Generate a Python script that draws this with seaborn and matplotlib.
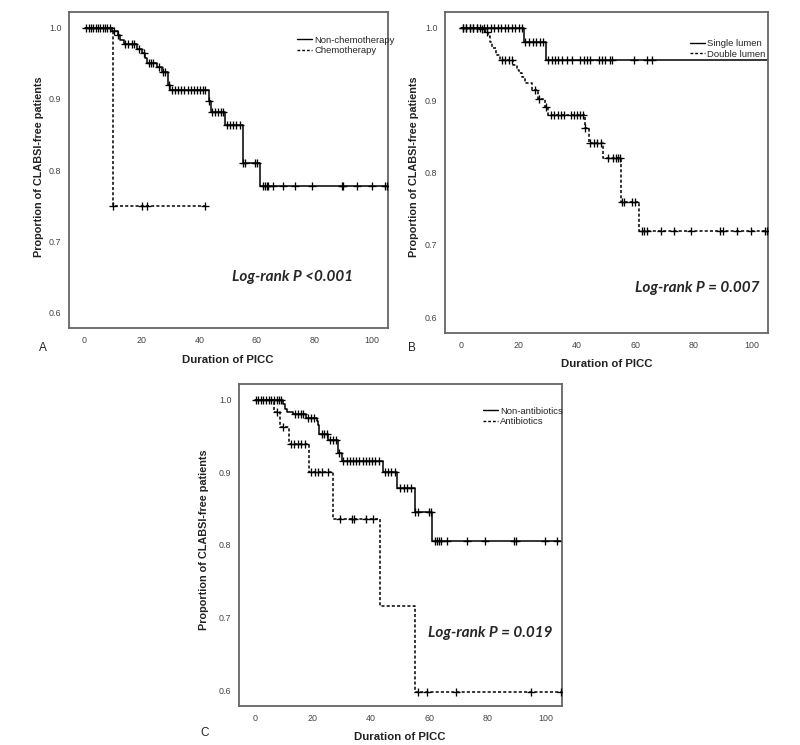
import numpy as np
import seaborn as sns
import matplotlib.pyplot as plt
from matplotlib.lines import Line2D

# ---- Panel A: chemotherapy ----
nonchemo_times = [0, 9.5, 11.5, 12.4, 13.6, 18.2, 20.0, 21.1, 21.7, 25.2, 26.9, 29.2, 29.8, 43.2, 44.0, 49.0, 55.1, 61.2]
nonchemo_surv = [1.0, 0.996, 0.990, 0.983, 0.977, 0.970, 0.965, 0.958, 0.951, 0.945, 0.938, 0.920, 0.912, 0.897, 0.881, 0.863, 0.810, 0.777]
nonchemo_cens = [0.6, 1.4, 2.2, 3.0, 3.9, 4.7, 5.5, 6.4, 7.2, 8.0, 9.0, 10.4, 11.8, 14.2, 15.3, 16.4, 17.4, 19.0,
                 20.6, 22.4, 23.2, 24.0, 25.8, 27.5, 28.2, 29.5, 30.4, 31.5, 32.6, 33.7, 34.8, 35.9, 37.0, 38.1,
                 39.2, 40.3, 41.3, 42.0, 43.2, 44.3, 45.5, 46.6, 47.5, 48.4, 49.6, 50.7, 51.8, 52.9, 54.0, 55.1,
                 55.9, 59.4, 60.2, 62.3, 62.9, 63.5, 64.0, 65.8, 69.3, 73.3, 79.1, 89.6, 90.0, 94.8, 100.0, 104.7, 105.3]
nonchemo_end = 105.3
chemo_times = [0, 9.9]
chemo_surv = [1.0, 0.75]
chemo_cens = [10.0, 20.0, 21.9, 42.0]
chemo_end = 42.0

# ---- Panel B: lumen ----
single_times = [0, 21.8, 29.4]
single_surv = [1.0, 0.981, 0.955]
single_cens = [0.7, 1.9, 3.1, 4.3, 5.5, 6.7, 7.9, 9.1, 10.3, 11.5, 12.7, 13.9, 15.1, 16.3, 17.5, 18.7, 19.9, 21.1,
               22.1, 23.4, 24.7, 25.9, 27.2, 28.4, 30.2, 31.3, 32.5, 33.6, 34.8, 36.5, 38.2, 41.1, 42.3, 43.4,
               44.6, 47.4, 48.6, 49.7, 51.4, 52.0, 59.5, 64.1, 65.8]
single_end = 105.5
double_times = [0, 6.6, 8.4, 9.5, 10.1, 10.7, 12.2, 13.5, 18.1, 19.3, 20.2, 21.0, 22.1, 24.5, 26.7, 29.0, 30.2,
                42.8, 44.3, 49.1, 55.0, 61.2]
double_surv = [1.0, 0.998, 0.994, 0.989, 0.981, 0.972, 0.963, 0.956, 0.949, 0.942, 0.938, 0.932, 0.924, 0.914,
               0.901, 0.891, 0.880, 0.861, 0.841, 0.820, 0.759, 0.719]
double_cens = [0.7, 1.9, 3.1, 4.3, 5.5, 7.2, 9.0, 14.2, 15.4, 16.6, 17.7, 25.6, 26.9, 29.2, 31.0, 32.2, 33.3,
               34.4, 35.5, 37.8, 38.9, 40.0, 41.1, 42.2, 42.8, 44.6, 45.8, 47.0, 48.1, 50.5, 52.5, 53.3, 54.1,
               54.8, 55.5, 56.2, 58.9, 60.0, 62.3, 63.2, 64.1, 68.9, 73.2, 79.2, 89.3, 90.2, 95.1, 100.0, 104.8, 105.4]
double_end = 105.4

# ---- Panel C: antibiotics ----
nonanti_times = [0, 9.8, 10.3, 11.1, 13.2, 17.6, 21.3, 21.8, 22.2, 25.3, 28.7, 29.9, 44.0, 48.9, 55.2, 61.1]
nonanti_surv = [1.0, 0.994, 0.988, 0.984, 0.980, 0.975, 0.971, 0.966, 0.953, 0.945, 0.927, 0.916, 0.900, 0.8785,
                0.846, 0.8055]
nonanti_cens = [0.3, 1.2, 2.1, 3.0, 3.9, 4.8, 5.7, 6.6, 7.5, 8.4, 9.2, 13.8, 14.9, 15.9, 16.7, 18.3, 19.4, 20.5,
                23.0, 24.0, 24.8, 25.9, 27.0, 28.0, 28.9, 30.5, 31.6, 32.7, 33.8, 34.9, 36.0, 37.1, 38.2, 39.3,
                40.4, 41.5, 42.6, 44.8, 45.9, 47.0, 48.3, 50.0, 51.2, 52.4, 53.6, 55.2, 56.0, 59.8, 60.6, 62.0,
                62.8, 63.5, 64.2, 66.1, 73.0, 79.1, 89.1, 90.0, 100.0, 104.0]
nonanti_end = 105.5
anti_times = [0, 6.6, 8.6, 11.8, 18.7, 27.0, 43.1, 55.0]
anti_surv = [1.0, 0.983, 0.963, 0.939, 0.900, 0.836, 0.716, 0.597]
anti_cens = [7.5, 9.8, 12.4, 13.6, 14.8, 16.0, 17.2, 19.5, 20.7, 21.9, 23.0, 25.3, 29.3, 33.3, 34.1, 38.2, 40.8,
             56.0, 59.2, 69.2, 95.2, 105.2]
anti_end = 105.2

DASH = (0, (2, 1.4))


def km_curve(ax, times, surv, cens, end, ls):
    t = list(times) + [end]
    s = list(surv) + [surv[-1]]
    sns.lineplot(x=t, y=s, ax=ax, drawstyle='steps-post', sort=False, estimator=None,
                 color='black', linewidth=1.1, linestyle=ls)
    idx = np.searchsorted(times, cens, side='right') - 1
    ys = np.array(surv)[idx]
    sns.scatterplot(x=cens, y=ys, ax=ax, marker='+', s=30, color='black', linewidth=0.95, zorder=3)


def style_axes(ax):
    ax.set_xlim(-5.4, 105.7)
    ax.set_ylim(0.578, 1.022)
    ax.set_xticks([0, 20, 40, 60, 80, 100])
    ax.set_yticks([0.6, 0.7, 0.8, 0.9, 1.0])
    ax.set_yticklabels(['0.6', '0.7', '0.8', '0.9', '1.0'])
    ax.tick_params(direction='out', length=3.5, width=1, colors='#555', labelcolor='#444',
                   labelsize=6.4, pad=2)
    for sp in ax.spines.values():
        sp.set_visible(True)
        sp.set_color('#666')
        sp.set_linewidth(1.3)
    ax.set_xlabel('')
    ax.set_ylabel('')


sns.set_style('white')
plt.rcParams['font.family'] = ['Liberation Sans', 'DejaVu Sans']

W, H = 800, 745
fig = plt.figure(figsize=(8, 7.45), dpi=100)


def add_axes(l, r, t, b):
    return fig.add_axes([l / W, (H - b) / H, (r - l) / W, (b - t) / H])


axA = add_axes(69, 388, 12, 328)
axB = add_axes(445, 768, 12, 333)
axC = add_axes(239, 562, 384, 706)

panels = [
    (axA, [(nonchemo_times, nonchemo_surv, nonchemo_cens, nonchemo_end, '-'),
           (chemo_times, chemo_surv, chemo_cens, chemo_end, DASH)],
     ['Non-chemotherapy', 'Chemotherapy'], (0.715, 0.925), 'Log-rank P <0.001', (0.702, 0.161)),
    (axB, [(single_times, single_surv, single_cens, single_end, '-'),
           (double_times, double_surv, double_cens, double_end, DASH)],
     ['Single lumen', 'Double lumen'], (0.759, 0.915), 'Log-rank P = 0.007', (0.780, 0.140)),
    (axC, [(nonanti_times, nonanti_surv, nonanti_cens, nonanti_end, '-'),
           (anti_times, anti_surv, anti_cens, anti_end, DASH)],
     ['Non-antibiotics', 'Antibiotics'], (0.755, 0.93), 'Log-rank P = 0.019', (0.777, 0.227)),
]

for ax, curves, labels, leg_pos, ptext, ppos in panels:
    for times, surv, cens, end, ls in curves:
        km_curve(ax, times, surv, cens, end, ls)
    style_axes(ax)
    handles = [Line2D([], [], color='black', lw=1.0, linestyle='-'),
               Line2D([], [], color='black', lw=1.0, linestyle=DASH)]
    ax.legend(handles, labels, loc='upper left', bbox_to_anchor=leg_pos, frameon=False,
              fontsize=6.8, handlelength=1.6, handletextpad=0.2, labelspacing=0.15,
              borderaxespad=0, borderpad=0)
    ax.text(ppos[0], ppos[1], ptext, transform=ax.transAxes, ha='center', va='center',
            fontsize=11, fontweight='bold', fontstyle='italic', family=['Lato', 'DejaVu Sans'])

# axis labels and panel letters
for (xc, yc), (yx, yy) in [((228, 360), (39, 167)), ((607, 364), (414, 167)), ((400, 737), (204, 540))]:
    fig.text(xc / W, 1 - yc / H, 'Duration of PICC', ha='center', va='center',
             fontsize=8.2, fontweight='bold', color='#222')
    fig.text(yx / W, 1 - yy / H, 'Proportion of CLABSI-free patients', ha='center', va='center',
             rotation=90, fontsize=7.8, fontweight='bold', color='#222')

for letter, (lx, ly) in [('A', (43, 348)), ('B', (412, 348)), ('C', (205, 733))]:
    fig.text(lx / W, 1 - ly / H, letter, ha='center', va='center', fontsize=8.5, color='#222')

fig.savefig('out.png', dpi=100)
